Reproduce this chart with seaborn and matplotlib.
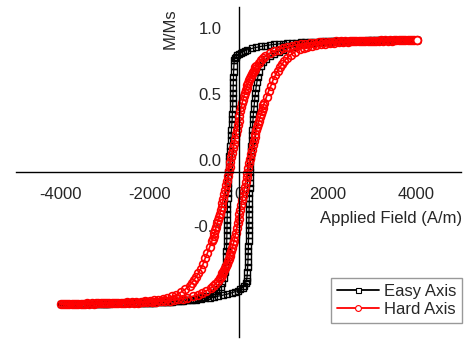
import matplotlib
matplotlib.use("Agg")
import matplotlib.pyplot as plt
import matplotlib.transforms as mtransforms
from matplotlib.lines import Line2D
from matplotlib.ticker import MultipleLocator
import pandas as pd
import seaborn as sns

# easy axis, field sweep 4000 -> -4000 (A/m)
easy_down_h = [
    4000, 3900, 3800, 3700, 3600, 3500, 3400, 3300, 3200, 3100,
    3000, 2900, 2800, 2700, 2600, 2500, 2400, 2300, 2200, 2100,
    2000, 1900, 1800, 1700, 1600, 1500, 1400, 1300, 1200, 1100,
    1000, 900, 800, 700, 600, 500, 400, 300, 200, 150,
    100, 50, 0, -30, -60, -80, -95, -105, -110, -113,
    -116, -119, -122, -125, -128, -132, -137, -143, -150, -158,
    -166, -175, -185, -195, -205, -213, -220, -227, -232, -236,
    -240, -243, -246, -249, -251, -253, -255, -257, -259, -261,
    -263, -266, -270, -276, -284, -295, -310, -330, -360, -400,
    -450, -500, -550, -600, -700, -800, -900, -1000, -1100, -1200,
    -1300, -1400, -1500, -1600, -1700, -1800, -1900, -2000, -2100, -2200,
    -2300, -2400, -2500, -2600, -2700, -2800, -2900, -3000, -3100, -3200,
    -3300, -3400, -3500, -3600, -3700, -3800, -3900, -4000]
easy_down_m = [
    1.000, 1.000, 1.000, 1.000, 0.999, 0.999, 0.999, 0.998, 0.998, 0.998,
    0.997, 0.997, 0.996, 0.996, 0.995, 0.995, 0.994, 0.993, 0.992, 0.991,
    0.990, 0.989, 0.988, 0.987, 0.986, 0.985, 0.983, 0.981, 0.979, 0.976,
    0.973, 0.970, 0.966, 0.962, 0.957, 0.951, 0.944, 0.936, 0.926, 0.920,
    0.912, 0.903, 0.893, 0.884, 0.872, 0.860, 0.845, 0.800, 0.760, 0.720,
    0.68, 0.64, 0.60, 0.56, 0.52, 0.48, 0.44, 0.40, 0.36, 0.32,
    0.28, 0.24, 0.20, 0.16, 0.12, 0.08, 0.04, 0.00, -0.04, -0.08,
    -0.12, -0.16, -0.20, -0.24, -0.28, -0.32, -0.36, -0.40, -0.44, -0.48,
    -0.52, -0.56, -0.60, -0.64, -0.68, -0.72, -0.76, -0.80, -0.84, -0.87,
    -0.890, -0.905, -0.915, -0.925, -0.940, -0.950, -0.958, -0.964, -0.969, -0.973,
    -0.976, -0.979, -0.982, -0.984, -0.986, -0.988, -0.989, -0.990, -0.991, -0.992,
    -0.993, -0.994, -0.995, -0.995, -0.996, -0.996, -0.997, -0.997, -0.998, -0.998,
    -0.998, -0.999, -0.999, -0.999, -1.000, -1.000, -1.000, -1.000]

# easy axis, field sweep -4000 -> 4000
easy_up_h = [
    -3950, -3850, -3750, -3650, -3550, -3450, -3350, -3250, -3150, -3050,
    -2950, -2850, -2750, -2650, -2550, -2450, -2350, -2250, -2150, -2050,
    -1950, -1850, -1750, -1650, -1550, -1450, -1350, -1250, -1150, -1050,
    -950, -850, -750, -650, -550, -450, -350, -250, -150, -80,
    -20, 40, 90, 130, 160, 180, 190, 200, 207, 212,
    216, 219, 222, 225, 228, 230, 232, 234, 236, 238,
    240, 242, 245, 248, 251, 255, 259, 264, 269, 275,
    281, 288, 295, 302, 310, 318, 326, 335, 345, 355,
    367, 380, 395, 413, 435, 465, 505, 560, 620, 700,
    800, 900, 1000, 1100, 1200, 1300, 1350, 1450, 1550, 1650,
    1750, 1850, 1950, 2050, 2150, 2250, 2350, 2450, 2550, 2650,
    2750, 2850, 2950, 3050, 3150, 3250, 3350, 3450, 3550, 3650,
    3750, 3850, 3950, 4000]
easy_up_m = [
    -1.000, -1.000, -1.000, -0.999, -0.999, -0.999, -0.998, -0.998, -0.998, -0.997,
    -0.997, -0.996, -0.996, -0.995, -0.995, -0.994, -0.993, -0.992, -0.991, -0.990,
    -0.989, -0.988, -0.987, -0.985, -0.983, -0.981, -0.979, -0.976, -0.973, -0.970,
    -0.966, -0.962, -0.957, -0.952, -0.946, -0.940, -0.933, -0.925, -0.915, -0.907,
    -0.898, -0.888, -0.876, -0.860, -0.842, -0.822, -0.800, -0.76, -0.72, -0.68,
    -0.64, -0.60, -0.56, -0.52, -0.48, -0.44, -0.40, -0.36, -0.32, -0.28,
    -0.24, -0.20, -0.16, -0.12, -0.08, -0.04, 0.00, 0.04, 0.08, 0.12,
    0.16, 0.20, 0.24, 0.28, 0.32, 0.36, 0.40, 0.44, 0.48, 0.52,
    0.56, 0.60, 0.64, 0.68, 0.72, 0.76, 0.80, 0.83, 0.855, 0.875,
    0.895, 0.912, 0.927, 0.939, 0.949, 0.957, 0.961, 0.967, 0.972, 0.976,
    0.979, 0.982, 0.985, 0.987, 0.989, 0.990, 0.991, 0.992, 0.993, 0.994,
    0.995, 0.995, 0.996, 0.996, 0.997, 0.997, 0.998, 0.998, 0.999, 0.999,
    0.999, 1.000, 1.000, 1.000]

# hard axis, field sweep 4000 -> -4000
hard_down_h = [
    4000, 3900, 3800, 3700, 3600, 3500, 3400, 3300, 3200, 3100,
    3000, 2900, 2800, 2700, 2600, 2500, 2400, 2300, 2200, 2100,
    2000, 1900, 1800, 1700, 1600, 1500, 1400, 1300, 1200, 1100,
    1000, 900, 800, 700, 600, 550, 500, 450, 400, 380,
    360, 340, 320, 300, 280, 260, 240, 220, 200, 180,
    160, 140, 120, 100, 80, 60, 40, 20, 0, -20,
    -40, -60, -80, -100, -120, -140, -160, -180, -200, -220,
    -240, -260, -280, -300, -320, -340, -360, -380, -400, -420,
    -440, -460, -480, -500, -520, -540, -560, -580, -600, -650,
    -700, -750, -800, -850, -900, -950, -1000, -1050, -1100, -1200,
    -1300, -1400, -1500, -1600, -1700, -1800, -1900, -2000, -2100, -2200,
    -2300, -2400, -2500, -2600, -2700, -2800, -2900, -3000, -3100, -3200,
    -3300, -3400, -3500, -3600, -3700, -3800, -3900, -4000]
hard_down_m = [
    1.000, 1.000, 0.999, 0.999, 0.999, 0.998, 0.998, 0.997, 0.997, 0.996,
    0.996, 0.995, 0.995, 0.994, 0.993, 0.992, 0.991, 0.990, 0.989, 0.988,
    0.986, 0.984, 0.982, 0.979, 0.976, 0.972, 0.967, 0.962, 0.956, 0.949,
    0.940, 0.928, 0.915, 0.898, 0.876, 0.862, 0.846, 0.826, 0.803, 0.792,
    0.780, 0.768, 0.755, 0.742, 0.727, 0.712, 0.696, 0.678, 0.660, 0.640,
    0.620, 0.598, 0.575, 0.549, 0.521, 0.492, 0.460, 0.426, 0.390, 0.355,
    0.320, 0.285, 0.250, 0.215, 0.180, 0.145, 0.110, 0.075, 0.040, 0.005,
    -0.030, -0.065, -0.100, -0.135, -0.170, -0.202, -0.233, -0.262, -0.290, -0.316,
    -0.341, -0.366, -0.390, -0.414, -0.438, -0.462, -0.485, -0.505, -0.525, -0.570,
    -0.615, -0.655, -0.700, -0.735, -0.765, -0.793, -0.818, -0.840, -0.860, -0.890,
    -0.912, -0.930, -0.943, -0.953, -0.961, -0.967, -0.972, -0.976, -0.979, -0.982,
    -0.984, -0.986, -0.988, -0.990, -0.991, -0.992, -0.993, -0.994, -0.995, -0.995,
    -0.996, -0.996, -0.997, -0.997, -0.998, -0.998, -0.999, -1.000]

# hard axis, field sweep -4000 -> 4000
hard_up_h = [
    -3950, -3850, -3750, -3650, -3550, -3450, -3350, -3250, -3150, -3050,
    -2950, -2850, -2750, -2650, -2550, -2450, -2350, -2250, -2150, -2050,
    -1950, -1850, -1750, -1650, -1550, -1450, -1350, -1250, -1150, -1020,
    -920, -820, -720, -620, -570, -520, -470, -420, -400, -380,
    -360, -340, -320, -300, -280, -260, -240, -220, -200, -180,
    -160, -140, -120, -100, -80, -60, -40, -20, 0, 20,
    40, 60, 80, 100, 120, 140, 160, 180, 200, 220,
    240, 260, 280, 300, 320, 340, 360, 380, 400, 420,
    440, 460, 480, 500, 520, 540, 560, 580, 630, 680,
    730, 780, 830, 880, 930, 980, 1030, 1080, 1180, 1280,
    1380, 1480, 1550, 1650, 1750, 1850, 1950, 2050, 2150, 2250,
    2350, 2450, 2550, 2650, 2750, 2850, 2950, 3050, 3150, 3250,
    3350, 3450, 3550, 3650, 3750, 3850, 3950, 4000]
hard_up_m = [
    -1.000, -0.999, -0.999, -0.999, -0.998, -0.998, -0.997, -0.997, -0.996, -0.996,
    -0.995, -0.995, -0.994, -0.993, -0.992, -0.991, -0.990, -0.989, -0.988, -0.986,
    -0.984, -0.982, -0.980, -0.977, -0.974, -0.970, -0.965, -0.959, -0.952, -0.942,
    -0.930, -0.917, -0.900, -0.879, -0.865, -0.849, -0.829, -0.803, -0.792, -0.780,
    -0.768, -0.755, -0.742, -0.727, -0.712, -0.696, -0.678, -0.660, -0.640, -0.620,
    -0.598, -0.575, -0.549, -0.521, -0.492, -0.460, -0.426, -0.390, -0.355, -0.320,
    -0.285, -0.250, -0.215, -0.180, -0.145, -0.110, -0.075, -0.040, -0.005, 0.030,
    0.065, 0.100, 0.135, 0.170, 0.202, 0.233, 0.262, 0.290, 0.316, 0.341,
    0.366, 0.390, 0.414, 0.438, 0.462, 0.485, 0.505, 0.525, 0.570, 0.615,
    0.655, 0.700, 0.735, 0.765, 0.793, 0.818, 0.840, 0.860, 0.890, 0.912,
    0.930, 0.943, 0.950, 0.958, 0.964, 0.969, 0.973, 0.977, 0.980, 0.983,
    0.985, 0.987, 0.989, 0.990, 0.991, 0.992, 0.993, 0.994, 0.995, 0.995,
    0.996, 0.996, 0.997, 0.997, 0.998, 0.998, 0.999, 1.000]

series_names = ["Easy Axis", "Hard Axis"]
series_colors = ["black", "#ff0000"]
x_ticks = [-4000, -2000, 0, 2000, 4000]
x_tick_text = ["-4000", "-2000", "0", "2000", "4000"]
y_ticks = [-1.0, -0.5, 0.0, 0.5, 1.0]
y_tick_text = ["", "-0.5", "0.0", "0.5", "1.0"]


def make_frame(h_down, m_down, h_up, m_up):
    return pd.DataFrame({
        "H": list(h_down) + list(h_up),
        "M": list(m_down) + list(m_up),
    })


def plot_loops():
    sns.set_style("white")
    plt.rcParams["font.family"] = ["Liberation Sans", "DejaVu Sans"]
    plt.rcParams["axes.unicode_minus"] = False

    fig = plt.figure(figsize=(4.73, 3.43), dpi=100)
    ax = fig.add_axes([16 / 473, 6 / 343, 445 / 473, 330 / 343])

    easy = make_frame(easy_down_h, easy_down_m, easy_up_h, easy_up_m)
    hard = make_frame(hard_down_h, hard_down_m, hard_up_h, hard_up_m)

    sns.lineplot(
        data=easy, x="H", y="M", ax=ax,
        sort=False, estimator=None,
        color=series_colors[0], lw=0.9,
        marker="s", ms=4.0, mfc="none", mec=series_colors[0], mew=1.0,
        zorder=2
    )
    sns.lineplot(
        data=hard, x="H", y="M", ax=ax,
        sort=False, estimator=None,
        color=series_colors[1], lw=1.2,
        marker="o", ms=5.6, mfc="none", mec=series_colors[1], mew=1.2,
        zorder=3
    )
    # last measured point of the hard-axis loop
    sns.scatterplot(
        x=hard_up_h[-1:], y=hard_up_m[-1:], ax=ax,
        marker="o", s=28, color="white", edgecolor=series_colors[1],
        linewidth=1.0, zorder=3.5
    )

    ax.set_xlim(-5000, 5000)
    ax.set_ylim(-1.25, 1.25)
    ax.set_xlabel("")
    ax.set_ylabel("")

    for side in ["top", "right"]:
        ax.spines[side].set_visible(False)
    ax.spines["left"].set_position(("data", 0))
    ax.spines["bottom"].set_position(("data", 0))
    for side in ["left", "bottom"]:
        ax.spines[side].set_color("black")
        ax.spines[side].set_linewidth(1.0)
        ax.spines[side].set_zorder(4)

    ax.set_xticks(x_ticks, labels=x_tick_text)
    ax.xaxis.set_minor_locator(MultipleLocator(1000))
    ax.set_yticks(y_ticks, labels=y_tick_text)
    ax.yaxis.set_minor_locator(MultipleLocator(0.25))

    ax.tick_params(axis="both", which="both", direction="out",
                   length=4, width=1, color="black")
    ax.tick_params(axis="x", which="major", labelsize=12, pad=7)
    ax.tick_params(axis="y", which="major", labelsize=12, pad=8)

    ax.text(0.346, 0.933, "M/Ms", transform=ax.transAxes,
            rotation=90, ha="center", va="center", fontsize=12)
    ax.text(1.002, 0.36, "Applied Field (A/m)", transform=ax.transAxes,
            ha="right", va="center", fontsize=12)

    handles = [
        Line2D([], [], color=series_colors[0], lw=1.3, marker="s", ms=3.6,
               mfc="white", mec=series_colors[0], mew=0.8),
        Line2D([], [], color=series_colors[1], lw=1.3, marker="o", ms=4.2,
               mfc="white", mec=series_colors[1], mew=0.8),
    ]
    leg = ax.legend(
        handles, series_names,
        loc="lower right",
        bbox_to_anchor=(462 / 473, 20 / 343),
        bbox_transform=fig.transFigure,
        fontsize=12, frameon=True, fancybox=False,
        borderaxespad=0, borderpad=0.35, labelspacing=0.2,
        handlelength=2.5, handletextpad=0.3
    )
    leg.get_frame().set_edgecolor("#808080")
    leg.get_frame().set_linewidth(1.0)
    leg.set_zorder(10)

    # y tick labels sit a little above their ticks, as in the original
    fig.canvas.draw()
    shift = mtransforms.ScaledTranslation(0, 12 / 100, fig.dpi_scale_trans)
    for tick in ax.yaxis.get_major_ticks():
        tick.label1.set_transform(tick.label1.get_transform() + shift)

    fig.savefig("out.png", dpi=100)
    plt.close(fig)


if __name__ == "__main__":
    plot_loops()
